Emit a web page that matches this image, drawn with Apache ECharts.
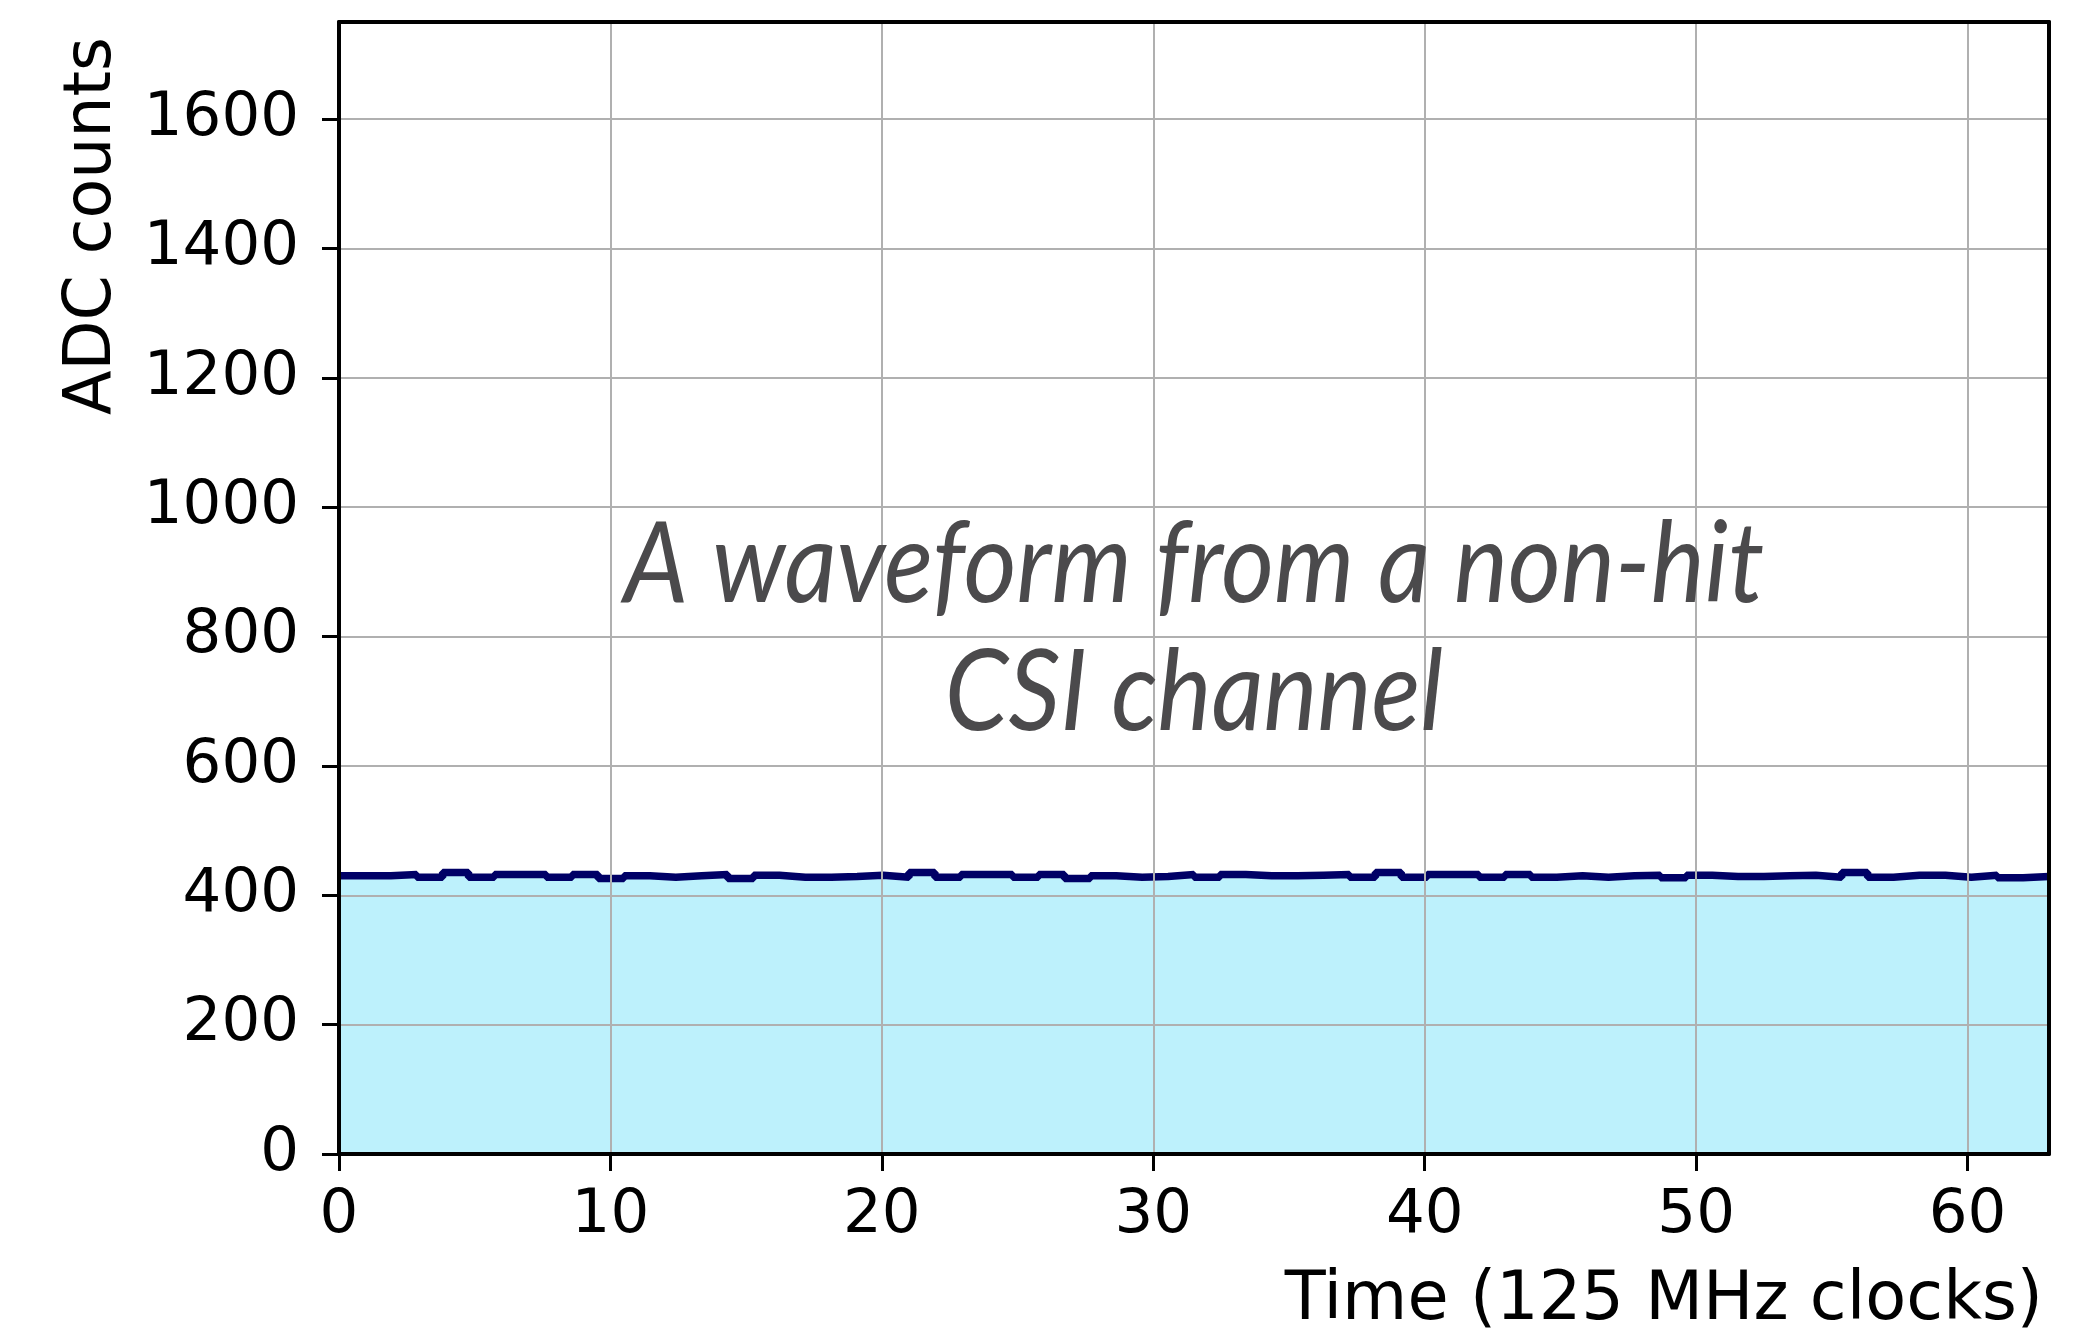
<!DOCTYPE html>
<html>
<head>
<meta charset="utf-8">
<script src="https://cdn.jsdelivr.net/npm/echarts@6/dist/echarts.min.js"></script>
<style>
html,body{margin:0;padding:0;background:#fff;}
#chart{width:2088px;height:1332px;}
</style>
</head>
<body>
<div id="chart"></div>
<script>
// ---- data ----
const xRange = [0, 63];
const yRange = [0, 1750];
const xTicks = [0, 10, 20, 30, 40, 50, 60];
const yTicks = [0, 200, 400, 600, 800, 1000, 1200, 1400, 1600];
// ADC counts per sample bin (66 bins across the time axis)
const adcCounts = [
  430, 430, 432, 428, 435, 428, 432, 432, 428, 432,
  426, 430, 428, 430, 432, 426, 431, 428, 428, 429,
  431, 428, 435, 428, 432, 432, 428, 432, 426, 430,
  428, 429, 432, 428, 432, 430, 430, 431, 432, 428,
  435, 428, 432, 432, 428, 432, 428, 430, 428, 430,
  431, 427, 431, 429, 429, 430, 431, 428, 435, 428,
  431, 431, 428, 431, 427, 429
];
const xTitle = 'Time (125 MHz clocks)';
const yTitle = 'ADC counts';
const annotation = 'A waveform from a non-hit\nCSI channel';

// ---- build histogram step points from bin edges ----
const nBins = adcCounts.length;
const binW = (xRange[1] - xRange[0]) / nBins;
const stepData = adcCounts.map((v, i) => [xRange[0] + i * binW, v]);
stepData.push([xRange[1], adcCounts[nBins - 1]]);

const chart = echarts.init(document.getElementById('chart'), null, {renderer: 'canvas'});
const labelFont = {fontFamily: 'DejaVu Sans', fontSize: 61, color: '#000', formatter: v => String(v)};
const frameLine = {show: true, onZero: false, lineStyle: {color: '#000', width: 4}};

chart.setOption({
  animation: false,
  backgroundColor: '#fff',
  grid: {left: 339, right: 39, top: 22, bottom: 178, containLabel: false},
  xAxis: [{
    type: 'value', min: xRange[0], max: xRange[1], interval: 10, z: 10,
    axisLine: frameLine,
    axisTick: {show: true, length: 17, lineStyle: {color: '#000', width: 3}, customValues: xTicks},
    axisLabel: Object.assign({margin: 32, customValues: xTicks}, labelFont),
    splitLine: {show: true, lineStyle: {color: '#b0b0b0', width: 2}}
  }, {
    type: 'value', position: 'top', min: xRange[0], max: xRange[1], z: 10,
    axisLine: frameLine,
    axisTick: {show: false}, axisLabel: {show: false}, splitLine: {show: false}
  }],
  yAxis: [{
    type: 'value', min: yRange[0], max: yRange[1], interval: 200, z: 10,
    axisLine: frameLine,
    axisTick: {show: true, length: 17, lineStyle: {color: '#000', width: 3}, customValues: yTicks},
    axisLabel: Object.assign({margin: 40, customValues: yTicks}, labelFont),
    splitLine: {show: true, lineStyle: {color: '#b0b0b0', width: 2}}
  }, {
    type: 'value', position: 'right', min: yRange[0], max: yRange[1], z: 10,
    axisLine: frameLine,
    axisTick: {show: false}, axisLabel: {show: false}, splitLine: {show: false}
  }],
  series: [{
    type: 'line',
    data: stepData,
    step: 'end',
    symbol: 'none',
    clip: true,
    lineStyle: {color: '#000066', width: 7.5},
    areaStyle: {color: '#bdf1fc', opacity: 1, origin: 'start'},
    z: 2
  }],
  graphic: [{
    type: 'text', x: 93, y: 226, rotation: Math.PI / 2, z: 20,
    style: {text: yTitle, fontFamily: 'DejaVu Sans', fontSize: 65, fill: '#000',
            textAlign: 'center', textVerticalAlign: 'middle'}
  }, {
    type: 'text', x: 2043, y: 1302, z: 20,
    style: {text: xTitle, fontFamily: 'DejaVu Sans', fontSize: 67, fill: '#000',
            textAlign: 'right', textVerticalAlign: 'middle'}
  }, {
    type: 'text', x: 1194, y: 630, z: 20, scaleX: 0.91,
    style: {text: annotation, fontFamily: 'Lato', fontStyle: 'italic', fontSize: 112,
            lineHeight: 128, fill: '#4b4a4c', textAlign: 'center', textVerticalAlign: 'middle'}
  }]
});
</script>
</body>
</html>
